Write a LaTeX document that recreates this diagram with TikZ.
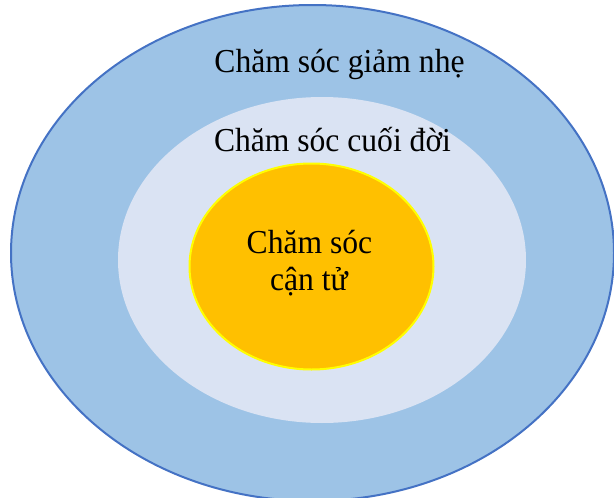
\documentclass[tikz,border=0pt]{standalone}
\usepackage{fontspec}
\usepackage{graphicx}
\setmainfont{Liberation Serif}
\definecolor{outerfill}{HTML}{9DC3E6}
\definecolor{outerline}{HTML}{4472C4}
\definecolor{midfill}{HTML}{DAE3F3}
\definecolor{innerfill}{HTML}{FFC000}
\definecolor{innerline}{HTML}{FFFF00}
\newcommand{\tallt}[1]{\scalebox{1}[1.06]{#1}}
\begin{document}
\begin{tikzpicture}[x=1pt,y=-1pt,
  lbl/.style={font=\fontsize{31.6}{37}\selectfont, inner sep=0pt, anchor=base}]
\useasboundingbox (0,0) rectangle (614,498);
\begin{scope}
\clip (0,0) rectangle (614,498);
\fill[outerfill] (312.5,253) ellipse [x radius=301.5, y radius=248];
\draw[outerline, line width=2pt] (312.5,253) ellipse [x radius=301.5, y radius=248];
\end{scope}
\fill[midfill] (322,260) ellipse [x radius=204, y radius=163];
\filldraw[fill=innerfill, draw=innerline, line width=2pt] (311.5,266.5) ellipse [x radius=122, y radius=103];
\node[lbl] (t1) at (339.5,72) {\tallt{Chăm sóc giảm nhẹ}};
\node[lbl] (t2) at (332.5,151) {\tallt{Chăm sóc cuối đời}};
\node[lbl] (t3) at (309.5,253) {\tallt{Chăm sóc}};
\node[lbl] (t4) at (309,290) {\tallt{cận tử}};
\end{tikzpicture}
\end{document}
